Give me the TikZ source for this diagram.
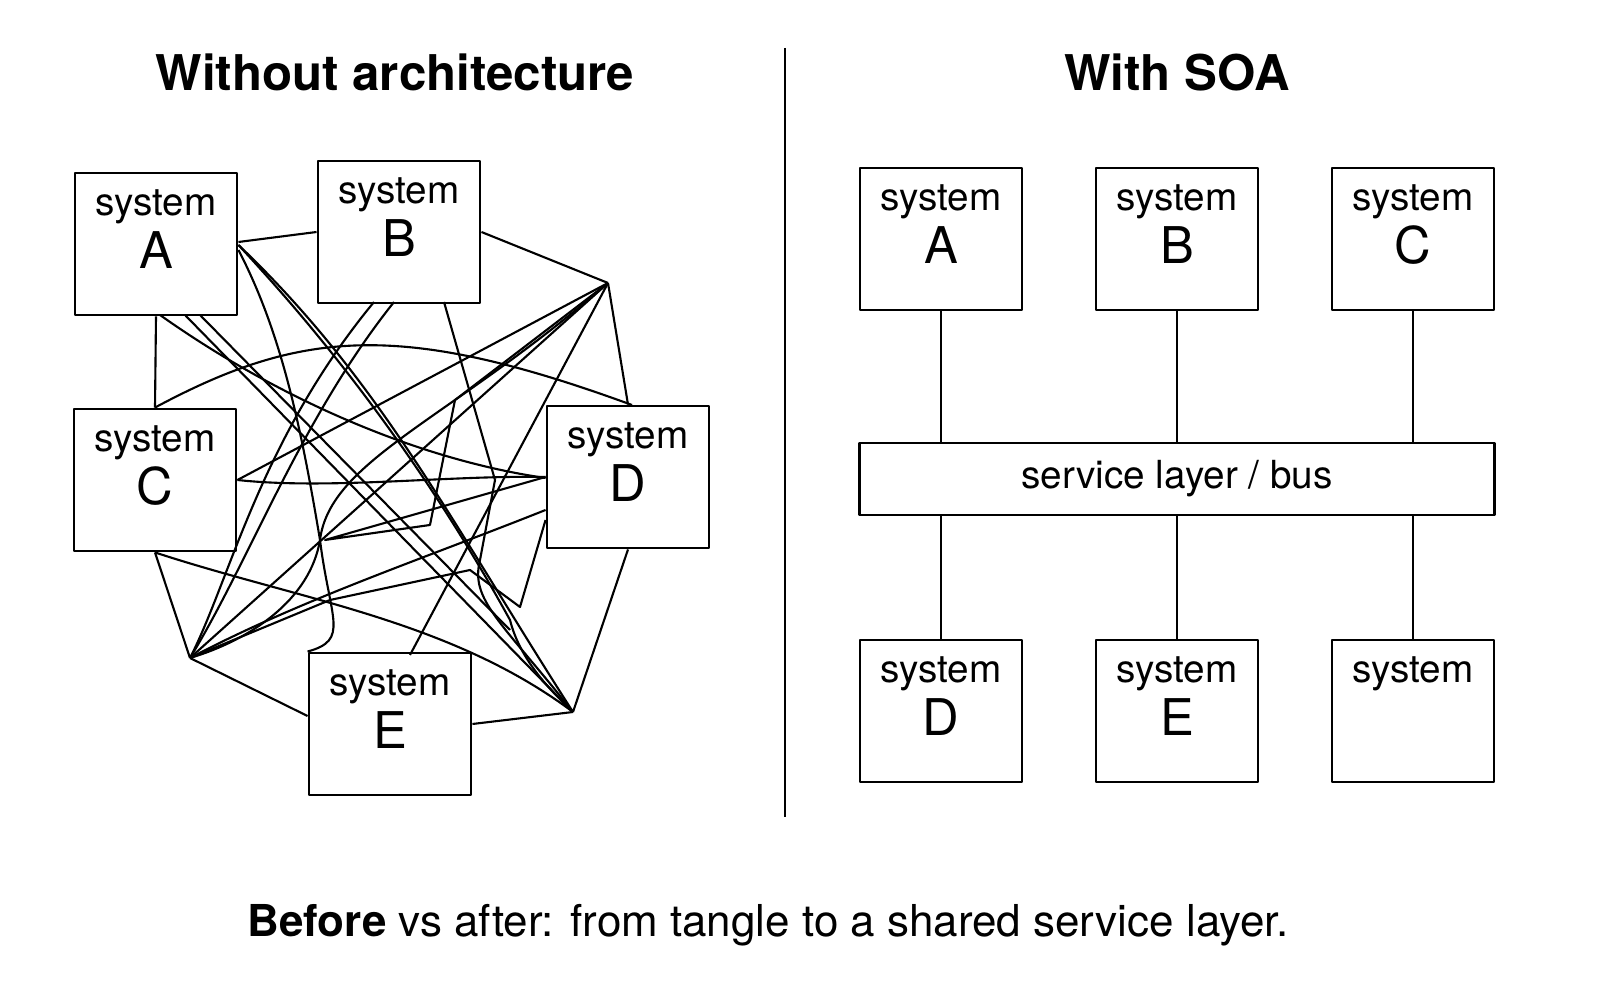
\documentclass[tikz,border=0pt]{standalone}
\usepackage{fontspec}
\setmainfont{TeX Gyre Heros}
\usetikzlibrary{positioning}
\begin{document}
\begin{tikzpicture}[x=0.01cm,y=-0.01cm,semithick,line join=round]
    \tikzstyle{sys}=[draw, thick, minimum width=1.62cm, minimum height=1.42cm, align=center, font=\fontsize{11}{15}\selectfont, inner sep=0pt, text depth=0.3cm]
    \tikzstyle{title}=[font=\fontsize{14}{16}\selectfont\bfseries]

    % left: the tangle
    \node [title] (lt) at (395,72) {Without architecture};
    \node [sys] (A) at (156,244) {system\\\Large A};
    \node [sys] (B) at (399,232) {system\\\Large B};
    \node [sys] (C) at (155,480) {system\\\Large C};
    \node [sys] (D) at (628,477) {system\\\Large D};
    \node [sys] (E) at (390,724) {system\\\Large E};
    \coordinate (p1) at (608,283);
    \coordinate (p2) at (190,658);
    \coordinate (p3) at (573,712);
    \coordinate (p4) at (520,607);

    % outer ring
    \draw (A.south) -- (C.north);
    \draw (A.east |- 0,242) -- (B.west |- 0,232);
    \draw (B.east |- 0,232) -- (p1);
    \draw (p1) -- (D.north);
    \draw (D.south) -- (p3);
    \draw (p3) -- (E.east);
    \draw (E.west |- 0,716) -- (p2);
    \draw (p2) -- (C.south);
    % crossings
    \draw (p1) -- (C.east);
    \draw (p1) -- (p2);
    \draw (p1) -- (410,655);
    \draw (p1) .. controls (450,420) and (330,460) .. (320,540) .. controls (310,600) and (250,640) .. (p2);
    \draw (p1) -- (455,400) -- (430,525) -- (325,540) -- (D.west);
    \draw (A.east |- 0,245) .. controls (380,380) and (450,520) .. (p3);
    \draw (A.east |- 0,245) .. controls (280,290) and (400,420) .. (510,620) .. controls (520,660) and (550,690) .. (p3);
    \draw (185,315) -- (p3);
    \draw (200,315) -- (510,630);
    \draw (160,315) .. controls (280,400) and (420,460) .. (D.west |- 0,478);
    \draw (A.east |- 0,250) .. controls (280,330) and (300,420) .. (320,540) .. controls (330,620) and (350,640) .. (E.north west);
    \draw (C.north) .. controls (300,330) and (400,320) .. (632,405);
    \draw (C.east) .. controls (330,490) and (450,475) .. (D.west);
    \draw (C.south) .. controls (300,600) and (450,620) .. (p3);
    \draw (394,302) .. controls (300,420) and (250,560) .. (p2);
    \draw (444,302) -- (495,480) -- (480,560) .. controls (470,600) and (500,620) .. (p3);
    \draw (p2) .. controls (300,600) and (420,560) .. (D.west |- 0,510);
    \draw (D.west |- 0,520) -- (p4) -- (470,570) -- (330,600) -- (p2);
    \draw (374,302) .. controls (260,440) and (230,580) .. (p2);

    % divider
    \draw (785,48) -- (785,817);

    % right: with SOA
    \node [title] (rt) at (1177,72) {With SOA};
    \node [sys] (sA) at (941,239) {system\\\Large A};
    \node [sys] (sB) at (1177,239) {system\\\Large B};
    \node [sys] (sC) at (1413,239) {system\\\Large C};
    \node [draw, thick, minimum width=6.34cm, minimum height=0.72cm, font=\fontsize{11}{13}\selectfont] (bus) at (1177,479) {service layer / bus};
    \node [sys] (sD) at (941,711) {system\\\Large D};
    \node [sys] (sE) at (1177,711) {system\\\Large E};
    \node [sys] (sF) at (1413,711) {system\\\Large\phantom{E}};
    \foreach \s in {sA,sB,sC}
        \draw (\s.south) -- (\s.south |- bus.north);
    \foreach \s in {sD,sE,sF}
        \draw (\s.north) -- (\s.north |- bus.south);

    \node [font=\fontsize{12.5}{15}\selectfont] (cap) at (768,925) {\textbf{Before} vs after: from tangle to a shared service layer.};
    \pgfresetboundingbox
    \useasboundingbox (0,0) rectangle (1600,995);
\end{tikzpicture}
\end{document}
